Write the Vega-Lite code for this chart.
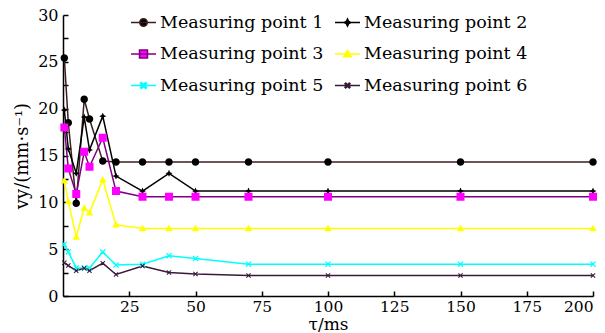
{
  "$schema": "https://vega.github.io/schema/vega-lite/v6.json",
  "width": 530,
  "height": 281,
  "autosize": "none",
  "padding": {"left": 63, "top": 15, "right": 12, "bottom": 37},
  "background": "white",
  "config": {
    "view": {"stroke": null},
    "axis": {
      "grid": false,
      "domainColor": "black",
      "domainWidth": 1.5,
      "tickColor": "black",
      "tickWidth": 1.5,
      "labelFont": "DejaVu Serif",
      "labelFontSize": 16,
      "labelColor": "black",
      "titleFont": "DejaVu Serif",
      "titleFontSize": 18,
      "titleFontWeight": "normal",
      "titleColor": "black"
    }
  },
  "data": {
    "values": [
      {"t": 0.5, "v": 25.4, "s": "Measuring point 1"},
      {"t": 2, "v": 18.5, "s": "Measuring point 1"},
      {"t": 5, "v": 9.9, "s": "Measuring point 1"},
      {"t": 8, "v": 21.0, "s": "Measuring point 1"},
      {"t": 10, "v": 18.9, "s": "Measuring point 1"},
      {"t": 15, "v": 14.4, "s": "Measuring point 1"},
      {"t": 20, "v": 14.3, "s": "Measuring point 1"},
      {"t": 30, "v": 14.3, "s": "Measuring point 1"},
      {"t": 40, "v": 14.3, "s": "Measuring point 1"},
      {"t": 50, "v": 14.3, "s": "Measuring point 1"},
      {"t": 70, "v": 14.3, "s": "Measuring point 1"},
      {"t": 100, "v": 14.3, "s": "Measuring point 1"},
      {"t": 150, "v": 14.3, "s": "Measuring point 1"},
      {"t": 200, "v": 14.3, "s": "Measuring point 1"},
      {"t": 0.5, "v": 19.85, "s": "Measuring point 2"},
      {"t": 2, "v": 15.7, "s": "Measuring point 2"},
      {"t": 5, "v": 13.1, "s": "Measuring point 2"},
      {"t": 8, "v": 19.1, "s": "Measuring point 2"},
      {"t": 10, "v": 15.6, "s": "Measuring point 2"},
      {"t": 15, "v": 19.2, "s": "Measuring point 2"},
      {"t": 20, "v": 12.8, "s": "Measuring point 2"},
      {"t": 30, "v": 11.2, "s": "Measuring point 2"},
      {"t": 40, "v": 13.1, "s": "Measuring point 2"},
      {"t": 50, "v": 11.2, "s": "Measuring point 2"},
      {"t": 70, "v": 11.2, "s": "Measuring point 2"},
      {"t": 100, "v": 11.2, "s": "Measuring point 2"},
      {"t": 150, "v": 11.2, "s": "Measuring point 2"},
      {"t": 200, "v": 11.2, "s": "Measuring point 2"},
      {"t": 0.5, "v": 18.0, "s": "Measuring point 3"},
      {"t": 2, "v": 13.6, "s": "Measuring point 3"},
      {"t": 5, "v": 10.9, "s": "Measuring point 3"},
      {"t": 8, "v": 15.4, "s": "Measuring point 3"},
      {"t": 10, "v": 13.8, "s": "Measuring point 3"},
      {"t": 15, "v": 16.9, "s": "Measuring point 3"},
      {"t": 20, "v": 11.2, "s": "Measuring point 3"},
      {"t": 30, "v": 10.6, "s": "Measuring point 3"},
      {"t": 40, "v": 10.6, "s": "Measuring point 3"},
      {"t": 50, "v": 10.6, "s": "Measuring point 3"},
      {"t": 70, "v": 10.6, "s": "Measuring point 3"},
      {"t": 100, "v": 10.6, "s": "Measuring point 3"},
      {"t": 150, "v": 10.6, "s": "Measuring point 3"},
      {"t": 200, "v": 10.6, "s": "Measuring point 3"},
      {"t": 0.5, "v": 12.3, "s": "Measuring point 4"},
      {"t": 2, "v": 10.1, "s": "Measuring point 4"},
      {"t": 5, "v": 6.3, "s": "Measuring point 4"},
      {"t": 8, "v": 9.4, "s": "Measuring point 4"},
      {"t": 10, "v": 8.9, "s": "Measuring point 4"},
      {"t": 15, "v": 12.4, "s": "Measuring point 4"},
      {"t": 20, "v": 7.6, "s": "Measuring point 4"},
      {"t": 30, "v": 7.2, "s": "Measuring point 4"},
      {"t": 40, "v": 7.2, "s": "Measuring point 4"},
      {"t": 50, "v": 7.2, "s": "Measuring point 4"},
      {"t": 70, "v": 7.2, "s": "Measuring point 4"},
      {"t": 100, "v": 7.2, "s": "Measuring point 4"},
      {"t": 150, "v": 7.2, "s": "Measuring point 4"},
      {"t": 200, "v": 7.2, "s": "Measuring point 4"},
      {"t": 0.5, "v": 5.5, "s": "Measuring point 5"},
      {"t": 2, "v": 4.7, "s": "Measuring point 5"},
      {"t": 5, "v": 3.0, "s": "Measuring point 5"},
      {"t": 8, "v": 3.0, "s": "Measuring point 5"},
      {"t": 10, "v": 3.0, "s": "Measuring point 5"},
      {"t": 15, "v": 4.7, "s": "Measuring point 5"},
      {"t": 20, "v": 3.3, "s": "Measuring point 5"},
      {"t": 30, "v": 3.4, "s": "Measuring point 5"},
      {"t": 40, "v": 4.3, "s": "Measuring point 5"},
      {"t": 50, "v": 4.0, "s": "Measuring point 5"},
      {"t": 70, "v": 3.4, "s": "Measuring point 5"},
      {"t": 100, "v": 3.4, "s": "Measuring point 5"},
      {"t": 150, "v": 3.4, "s": "Measuring point 5"},
      {"t": 200, "v": 3.4, "s": "Measuring point 5"},
      {"t": 0.5, "v": 3.55, "s": "Measuring point 6"},
      {"t": 2, "v": 3.25, "s": "Measuring point 6"},
      {"t": 5, "v": 2.7, "s": "Measuring point 6"},
      {"t": 8, "v": 2.95, "s": "Measuring point 6"},
      {"t": 10, "v": 2.7, "s": "Measuring point 6"},
      {"t": 15, "v": 3.5, "s": "Measuring point 6"},
      {"t": 20, "v": 2.3, "s": "Measuring point 6"},
      {"t": 30, "v": 3.2, "s": "Measuring point 6"},
      {"t": 40, "v": 2.5, "s": "Measuring point 6"},
      {"t": 50, "v": 2.35, "s": "Measuring point 6"},
      {"t": 70, "v": 2.2, "s": "Measuring point 6"},
      {"t": 100, "v": 2.2, "s": "Measuring point 6"},
      {"t": 150, "v": 2.2, "s": "Measuring point 6"},
      {"t": 200, "v": 2.2, "s": "Measuring point 6"}
    ]
  },
  "encoding": {
    "x": {
      "field": "t",
      "type": "quantitative",
      "scale": {"domain": [0, 200], "nice": false},
      "axis": {
        "title": "τ/ms",
        "values": [25, 50, 75, 100, 125, 150, 175, 200],
        "tickSize": -5,
        "labelFontSize": 15.5,
        "labelPadding": 8,
        "titlePadding": 2,
        "titleFontSize": 17
      }
    },
    "y": {
      "field": "v",
      "type": "quantitative",
      "scale": {"domain": [0, 30], "nice": false},
      "axis": {
        "title": "vy/(mm·s⁻¹)",
        "values": [0, 2.5, 5, 7.5, 10, 12.5, 15, 17.5, 20, 22.5, 25, 27.5, 30],
        "labelExpr": "datum.value % 5 === 0 ? datum.label : ''",
        "tickSize": -5,
        "labelPadding": 10,
        "titlePadding": 6
      }
    }
  },
  "layer": [
    {
      "mark": {"type": "line", "strokeWidth": 1.5},
      "encoding": {
        "stroke": {
          "field": "s",
          "type": "nominal",
          "scale": {
            "domain": ["Measuring point 1", "Measuring point 2", "Measuring point 3", "Measuring point 4", "Measuring point 5", "Measuring point 6"],
            "range": ["#3c1e1e", "#000000", "#800080", "#ffff00", "#00ffff", "#3a1a3a"]
          },
          "legend": {
            "title": null,
            "orient": "none",
            "direction": "horizontal",
            "legendX": 67,
            "legendY": -6,
            "columns": 2,
            "columnPadding": 8,
            "rowPadding": 9.5,
            "symbolSize": 625,
            "symbolStrokeWidth": 1.5,
            "labelFont": "DejaVu Serif",
            "labelFontSize": 17.5,
            "labelColor": "black",
            "labelOffset": 3,
            "labelLimit": 300,
            "encode": {
              "symbols": {
                "update": {
                  "fill": {"scale": "fill", "field": "value"},
                  "shape": {"scale": "shape", "field": "value"},
                  "strokeWidth": {"value": 1.5},
                  "opacity": {"value": 1}
                }
              }
            }
          }
        }
      }
    },
    {
      "mark": {"type": "point", "filled": true, "opacity": 1, "size": 625},
      "encoding": {
        "fill": {
          "field": "s",
          "type": "nominal",
          "scale": {
            "domain": ["Measuring point 1", "Measuring point 2", "Measuring point 3", "Measuring point 4", "Measuring point 5", "Measuring point 6"],
            "range": ["#000000", "#000000", "#ff00ff", "#ffff00", "#00ffff", "#3a1a3a"]
          }
        },
        "shape": {
          "field": "s",
          "type": "nominal",
          "scale": {
            "domain": ["Measuring point 1", "Measuring point 2", "Measuring point 3", "Measuring point 4", "Measuring point 5", "Measuring point 6"],
            "range": [
              "M-1,0H1M0.3,0A0.3,0.3 0 1,1 -0.3,0A0.3,0.3 0 1,1 0.3,0Z",
              "M-1,0H1M0,-0.28L0.09,-0.09L0.28,0L0.09,0.09L0,0.28L-0.09,0.09L-0.28,0L-0.09,-0.09Z",
              "M-1,0H1M-0.32,-0.32H0.32V0.32H-0.32Z",
              "M-1,0H1M0,-0.3L0.3,0.22H-0.3Z",
              "M-1,0H1M-0.24,-0.17L-0.17,-0.24L0,-0.07L0.17,-0.24L0.24,-0.17L0.07,0L0.24,0.17L0.17,0.24L0,0.07L-0.17,0.24L-0.24,0.17L-0.07,0Z",
              "M-1,0H1M-0.2,-0.14L-0.14,-0.2L0,-0.06L0.14,-0.2L0.2,-0.14L0.06,0L0.2,0.14L0.14,0.2L0,0.06L-0.14,0.2L-0.2,0.14L-0.06,0Z"
            ]
          }
        }
      }
    }
  ]
}
